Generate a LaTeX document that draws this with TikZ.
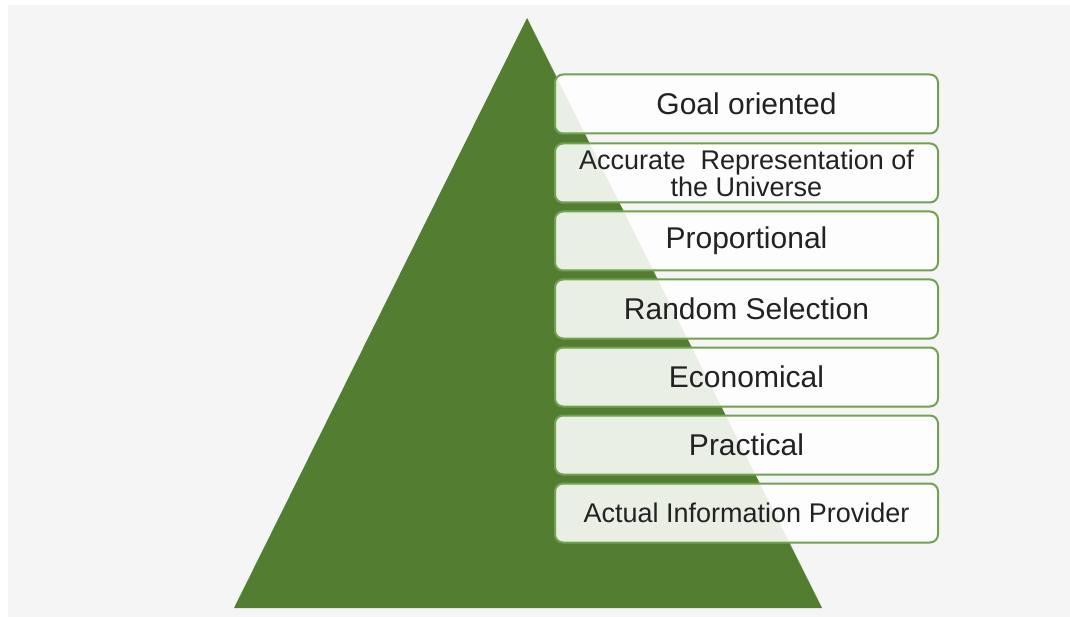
\documentclass[tikz,border=0pt]{standalone}
\usepackage{fontspec}
\setmainfont{Liberation Sans}
\begin{document}
\definecolor{pyrgreen}{RGB}{83,126,50}
\definecolor{boxline}{RGB}{112,162,80}
\definecolor{bggray}{RGB}{245,245,245}
\definecolor{txt}{RGB}{34,34,34}
\begin{tikzpicture}[x=1pt,y=-1pt,
  level/.style={draw=boxline, line width=2pt, fill=white, fill opacity=0.88,
    text opacity=1, rounded corners=8pt, minimum width=383pt, minimum height=59pt,
    inner sep=0pt, align=center, text=txt, font=\fontsize{30}{32}\selectfont},
  small/.style={font=\fontsize{27}{27}\selectfont}]
  % page and backdrop
  \fill[white] (0,0) rectangle (1070,617);
  \fill[bggray] (8,5) rectangle (1070,617);
  \useasboundingbox (0,0) rectangle (1070,617);
  % pyramid
  \fill[pyrgreen] (527,18) -- (822,608) -- (234,608) -- cycle;
  % levels, top to bottom
  \node[level] (l1) at (746.5,104) {Goal oriented};
  \node[level, small] (l2) at (746.5,173) {Accurate\ \ Representation of\\the Universe};
  \node[level] (l3) at (746.5,241) {Proportional};
  \node[level] (l4) at (746.5,309) {Random Selection};
  \node[level] (l5) at (746.5,377) {Economical};
  \node[level] (l6) at (746.5,445) {Practical};
  \node[level, small] (l7) at (746.5,513) {Actual Information Provider};
\end{tikzpicture}
\end{document}
